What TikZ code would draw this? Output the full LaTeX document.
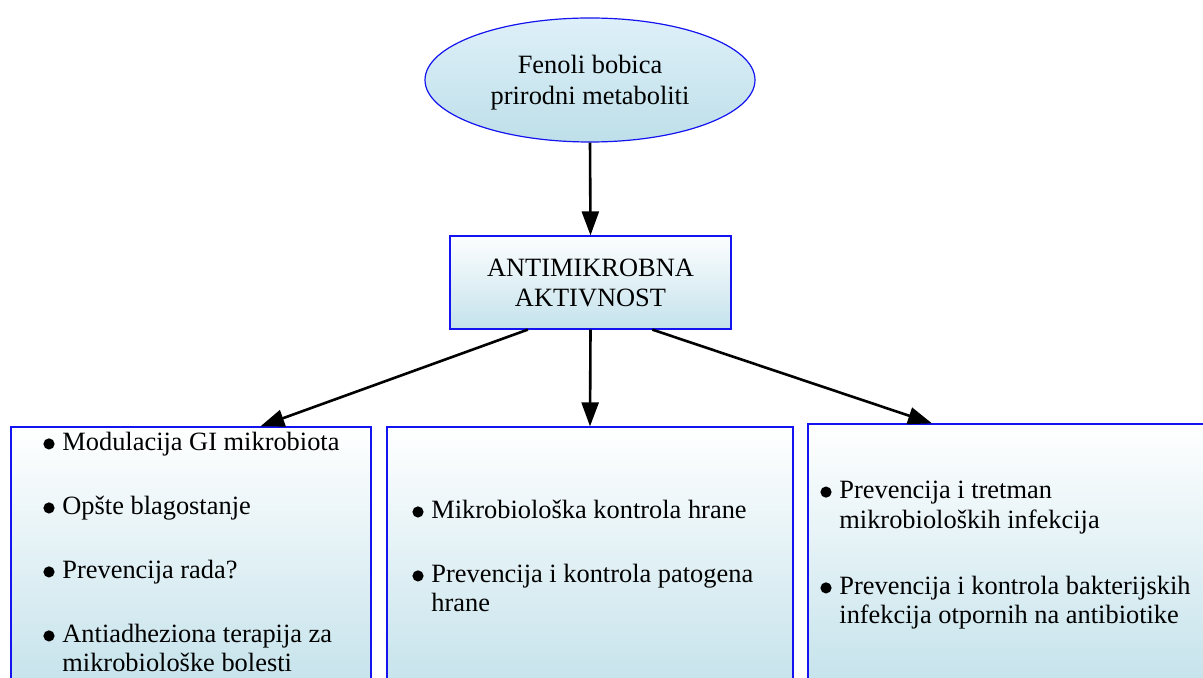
\documentclass[tikz,border=0pt]{standalone}
\usepackage{fontspec}
\setmainfont{Liberation Serif}
\usetikzlibrary{shapes.geometric,arrows.meta,calc}

\definecolor{edgeblue}{RGB}{20,20,240}
\definecolor{paleblue}{RGB}{222,240,249}
\definecolor{deepblue}{RGB}{190,223,233}
\definecolor{lightblue}{RGB}{196,226,236}

% bullet item and its continuation line
\newcommand{\bdot}{\tikz[baseline=0pt]\fill (2.8pt,3.4pt) circle (2.8pt);}
\newcommand{\bitem}[1]{\makebox[9.5pt][l]{\bdot}#1}
\newcommand{\bcont}[1]{\hspace*{9.5pt}#1}

\tikzset{
  every node/.style={font=\fontsize{13.2}{14.6}\selectfont},
  topoval/.style={ellipse, draw=edgeblue, line width=0.6pt, inner sep=0pt,
    minimum width=165pt, minimum height=62pt,
    top color=paleblue, bottom color=deepblue},
  ovaltext/.style={align=center, inner sep=0pt,
    font=\fontsize{13.2}{15.5}\selectfont},
  hubbox/.style={rectangle, draw=edgeblue, line width=0.6pt, inner sep=0pt,
    minimum width=140.5pt, minimum height=46.5pt, align=center,
    top color=white!92!paleblue, bottom color=lightblue,
    font=\fontsize{13.2}{15}\selectfont},
  leafbox/.style={rectangle, draw=edgeblue, line width=0.6pt, inner sep=0pt,
    minimum height=146.5pt, top color=white, bottom color=deepblue},
  itemtext/.style={anchor=north west, inner sep=0pt, align=left},
  arr/.style={line width=1.3pt, -{Triangle[length=12pt,width=8.5pt]}},
}

\begin{document}
\begin{tikzpicture}[x=0.5pt, y=-0.5pt]
  \useasboundingbox (0,0) rectangle (1203,678);
  \clip (0,0) rectangle (1203,678);

  % source and hub
  \node[topoval] (src) at (590,80) {};
  \node[ovaltext] (srctext) at ([yshift=-1.2pt]src.center) {Fenoli bobica\\prirodni metaboliti};
  \node[hubbox] (hub) at (590.5,282.5) {ANTIMIKROBNA\\AKTIVNOST};

  % three application areas (they run past the lower edge)
  \node[leafbox, minimum width=180pt] (left) at (191,573.5) {};
  \node[leafbox, minimum width=203pt] (mid) at (590,573.5) {};
  \node[leafbox, minimum width=203pt] (right) at (1011,570.5) {};

  % connectors
  \draw[arr] (src.south) -- (hub.north);
  \draw[arr] ($(hub.south west)!0.278!(hub.south east)$) -- ($(left.north west)!0.692!(left.north east)$);
  \draw[arr] (hub.south) -- (mid.north);
  \draw[arr] ($(hub.south west)!0.719!(hub.south east)$) -- ($(right.north west)!0.306!(right.north east)$);

  % left box items
  \node[itemtext] (l1) at (43,432) {\bitem{Modulacija GI mikrobiota}};
  \node[itemtext] (l2) at (43,496) {\bitem{Opšte blagostanje}};
  \node[itemtext] (l3) at (43,560) {\bitem{Prevencija rada?}};
  \node[itemtext] (l4) at (43,624) {\bitem{Antiadheziona terapija za}\\\bcont{mikrobiološke bolesti}};

  % middle box items
  \node[itemtext] (m1) at (412,500) {\bitem{Mikrobiološka kontrola hrane}};
  \node[itemtext] (m2) at (412,564) {\bitem{Prevencija i kontrola patogena}\\\bcont{hrane}};

  % right box items
  \node[itemtext] (r1) at (820,481) {\bitem{Prevencija i tretman}\\\bcont{mikrobioloških infekcija}};
  \node[itemtext] (r2) at (820,576) {\bitem{Prevencija i kontrola bakterijskih}\\\bcont{infekcija otpornih na antibiotike}};
\end{tikzpicture}
\end{document}
